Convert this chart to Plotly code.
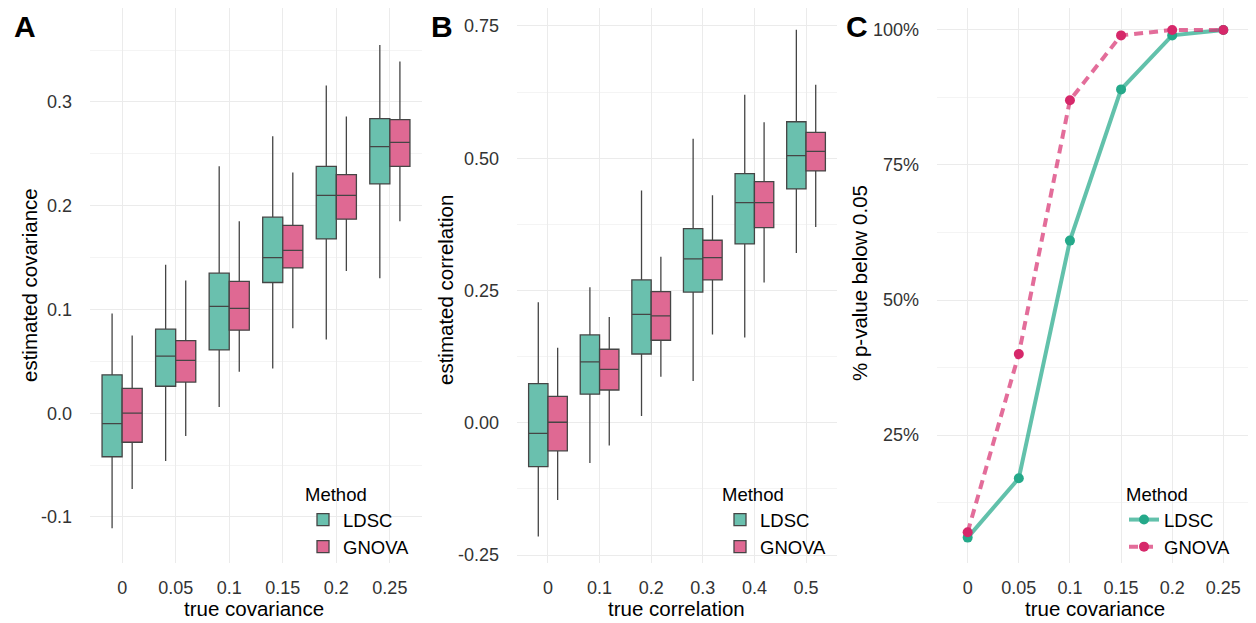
import plotly.graph_objects as go

# The page body has an 8px margin, so the figure is drawn 8px in from the corner.
OFF = 8
W, H = 1256 - OFF, 623 - OFF

cov_cats = ["0", "0.05", "0.1", "0.15", "0.2", "0.25"]
cor_cats = ["0", "0.1", "0.2", "0.3", "0.4", "0.5"]

# Panel A: estimated covariance (box statistics)
a_ldsc_low = [-0.111, -0.046, 0.006, 0.043, 0.071, 0.130]
a_ldsc_q1 = [-0.042, 0.026, 0.061, 0.126, 0.168, 0.221]
a_ldsc_med = [-0.010, 0.055, 0.103, 0.150, 0.210, 0.257]
a_ldsc_q3 = [0.037, 0.081, 0.135, 0.189, 0.238, 0.284]
a_ldsc_high = [0.096, 0.143, 0.238, 0.267, 0.316, 0.355]
a_gnova_low = [-0.073, -0.022, 0.040, 0.082, 0.137, 0.185]
a_gnova_q1 = [-0.028, 0.030, 0.080, 0.140, 0.187, 0.238]
a_gnova_med = [0.000, 0.051, 0.101, 0.157, 0.210, 0.261]
a_gnova_q3 = [0.024, 0.070, 0.127, 0.181, 0.230, 0.283]
a_gnova_high = [0.075, 0.128, 0.185, 0.232, 0.286, 0.339]

# Panel B: estimated correlation (box statistics)
b_ldsc_low = [-0.215, -0.076, 0.013, 0.079, 0.161, 0.321]
b_ldsc_q1 = [-0.083, 0.054, 0.130, 0.247, 0.338, 0.442]
b_ldsc_med = [-0.020, 0.115, 0.205, 0.310, 0.416, 0.505]
b_ldsc_q3 = [0.074, 0.166, 0.270, 0.367, 0.471, 0.569]
b_ldsc_high = [0.228, 0.256, 0.439, 0.537, 0.620, 0.743]
b_gnova_low = [-0.146, -0.043, 0.087, 0.167, 0.265, 0.370]
b_gnova_q1 = [-0.053, 0.062, 0.156, 0.270, 0.369, 0.476]
b_gnova_med = [0.001, 0.101, 0.202, 0.312, 0.416, 0.513]
b_gnova_q3 = [0.050, 0.139, 0.248, 0.345, 0.456, 0.549]
b_gnova_high = [0.142, 0.200, 0.314, 0.430, 0.568, 0.639]

# Panel C: % p-value below 0.05
c_ldsc = [6, 17, 61, 89, 99, 100]
c_gnova = [7, 40, 87, 99, 100, 100]

TEAL_FILL = "#6AC0AE"
PINK_FILL = "#DF6993"
TEAL = "#25A98A"
PINK = "#D6286A"
TEAL_LINE = "rgba(37,169,138,0.72)"
PINK_LINE = "rgba(214,40,106,0.68)"
BOX_LINE = "#454545"
FONT = "Liberation Sans"
TICK_FS = 18
TITLE_FS = 20.5
LEG_FS = 18.5


def xf(px):
    return (px - OFF) / W


def yf(py):
    return 1 - (py - OFF) / H


fig = go.Figure()


def add_box(x, low, q1, med, q3, high, name, fill, xa, ya, legend):
    fig.add_trace(go.Box(
        x=x, lowerfence=low, q1=q1, median=med, q3=q3, upperfence=high,
        name=name, fillcolor=fill, line=dict(color=BOX_LINE, width=1.3),
        whiskerwidth=0, boxpoints=False, xaxis=xa, yaxis=ya, legend=legend,
        offsetgroup=name, hoverinfo="skip",
    ))


add_box(cov_cats, a_ldsc_low, a_ldsc_q1, a_ldsc_med, a_ldsc_q3, a_ldsc_high,
        "LDSC", TEAL_FILL, "x", "y", "legend")
add_box(cov_cats, a_gnova_low, a_gnova_q1, a_gnova_med, a_gnova_q3, a_gnova_high,
        "GNOVA", PINK_FILL, "x", "y", "legend")
add_box(cor_cats, b_ldsc_low, b_ldsc_q1, b_ldsc_med, b_ldsc_q3, b_ldsc_high,
        "LDSC", TEAL_FILL, "x2", "y2", "legend2")
add_box(cor_cats, b_gnova_low, b_gnova_q1, b_gnova_med, b_gnova_q3, b_gnova_high,
        "GNOVA", PINK_FILL, "x2", "y2", "legend2")

fig.add_trace(go.Scatter(
    x=cov_cats, y=c_ldsc, mode="lines+markers", name="LDSC",
    line=dict(color=TEAL_LINE, width=4), marker=dict(color=TEAL, size=10),
    xaxis="x3", yaxis="y3", legend="legend3",
))
fig.add_trace(go.Scatter(
    x=cov_cats, y=c_gnova, mode="lines+markers", name="GNOVA",
    line=dict(color=PINK_LINE, width=4, dash="9px,6px"), marker=dict(color=PINK, size=10),
    xaxis="x3", yaxis="y3", legend="legend3",
))

GRID = "#EBEBEB"
MINOR = "#F4F4F4"
ydom = [yf(563), 1.0]

common_x = dict(type="category", range=[-0.6, 5.6], showgrid=True, gridcolor=GRID,
                gridwidth=1, zeroline=False, showline=False, ticks="",
                ticklabelstandoff=12, tickfont=dict(size=TICK_FS, color="#333333", family=FONT),
                automargin=False, fixedrange=True)
common_y = dict(showgrid=True, gridcolor=GRID, gridwidth=1, zeroline=False,
                showline=False, ticks="", ticklabelstandoff=17,
                tickfont=dict(size=TICK_FS, color="#333333", family=FONT),
                automargin=False, fixedrange=True)

fig.update_layout(
    width=W, height=H,
    margin=dict(l=0, r=0, t=0, b=0),
    paper_bgcolor="white", plot_bgcolor="white",
    font=dict(family=FONT, size=TICK_FS, color="#000000"),
    boxmode="group", boxgap=0.25, boxgroupgap=0,
    xaxis=dict(common_x, domain=[xf(90), xf(422)], anchor="y"),
    yaxis=dict(common_y, domain=ydom, anchor="x", range=[-0.1444, 0.3906],
               tickvals=[-0.1, 0.0, 0.1, 0.2, 0.3],
               ticktext=["-0.1", "0.0", "0.1", "0.2", "0.3"],
               minor=dict(tickvals=[-0.05, 0.05, 0.15, 0.25, 0.35], showgrid=True,
                          gridcolor=MINOR, gridwidth=1, ticks="")),
    xaxis2=dict(common_x, domain=[xf(517), xf(837)], anchor="y2"),
    yaxis2=dict(common_y, domain=ydom, anchor="x2", range=[-0.265, 0.784],
                tickvals=[-0.25, 0.0, 0.25, 0.5, 0.75],
                ticktext=["-0.25", "0.00", "0.25", "0.50", "0.75"],
                minor=dict(tickvals=[-0.125, 0.125, 0.375, 0.625], showgrid=True,
                           gridcolor=MINOR, gridwidth=1, ticks="")),
    xaxis3=dict(common_x, domain=[xf(937), xf(1254)], anchor="y3"),
    yaxis3=dict(common_y, domain=ydom, anchor="x3", range=[1.3, 104.07],
                tickvals=[25, 50, 75, 100],
                ticktext=["25%", "50%", "75%", "100%"],
                minor=dict(tickvals=[12.5, 37.5, 62.5, 87.5], showgrid=True,
                           gridcolor=MINOR, gridwidth=1, ticks="")),
    showlegend=True,
)

leg_common = dict(xanchor="left", yanchor="top", bgcolor="rgba(0,0,0,0)",
                  font=dict(size=LEG_FS, family=FONT, color="#000000"), tracegroupgap=0,
                  itemclick=False, itemdoubleclick=False)
fig.update_layout(
    legend=dict(leg_common, x=xf(303), y=yf(477), title=dict(text="Method", font=dict(size=LEG_FS))),
    legend2=dict(leg_common, x=xf(720), y=yf(477), title=dict(text="Method", font=dict(size=LEG_FS))),
    legend3=dict(leg_common, x=xf(1124), y=yf(477), title=dict(text="Method", font=dict(size=LEG_FS))),
)

annotations = [
    dict(text="<b>A</b>", x=xf(25), y=yf(26)),
    dict(text="<b>B</b>", x=xf(442), y=yf(26)),
    dict(text="<b>C</b>", x=xf(857), y=yf(26)),
]
for a in annotations:
    a.update(xref="paper", yref="paper", showarrow=False, xanchor="center", yanchor="middle",
             font=dict(size=30, family=FONT, color="#000000"))

titles = [
    dict(text="estimated covariance", x=xf(29), y=yf(285), textangle=-90),
    dict(text="estimated correlation", x=xf(445), y=yf(290), textangle=-90),
    dict(text="% p-value below 0.05", x=xf(859), y=yf(283), textangle=-90),
    dict(text="true covariance", x=xf(254), y=yf(608), textangle=0),
    dict(text="true correlation", x=xf(676), y=yf(608), textangle=0),
    dict(text="true covariance", x=xf(1095), y=yf(608), textangle=0),
]
for t in titles:
    t.update(xref="paper", yref="paper", showarrow=False, xanchor="center", yanchor="middle",
             font=dict(size=TITLE_FS, family=FONT, color="#000000"))

fig.update_layout(annotations=annotations + titles)

fig.write_html("out.html")
